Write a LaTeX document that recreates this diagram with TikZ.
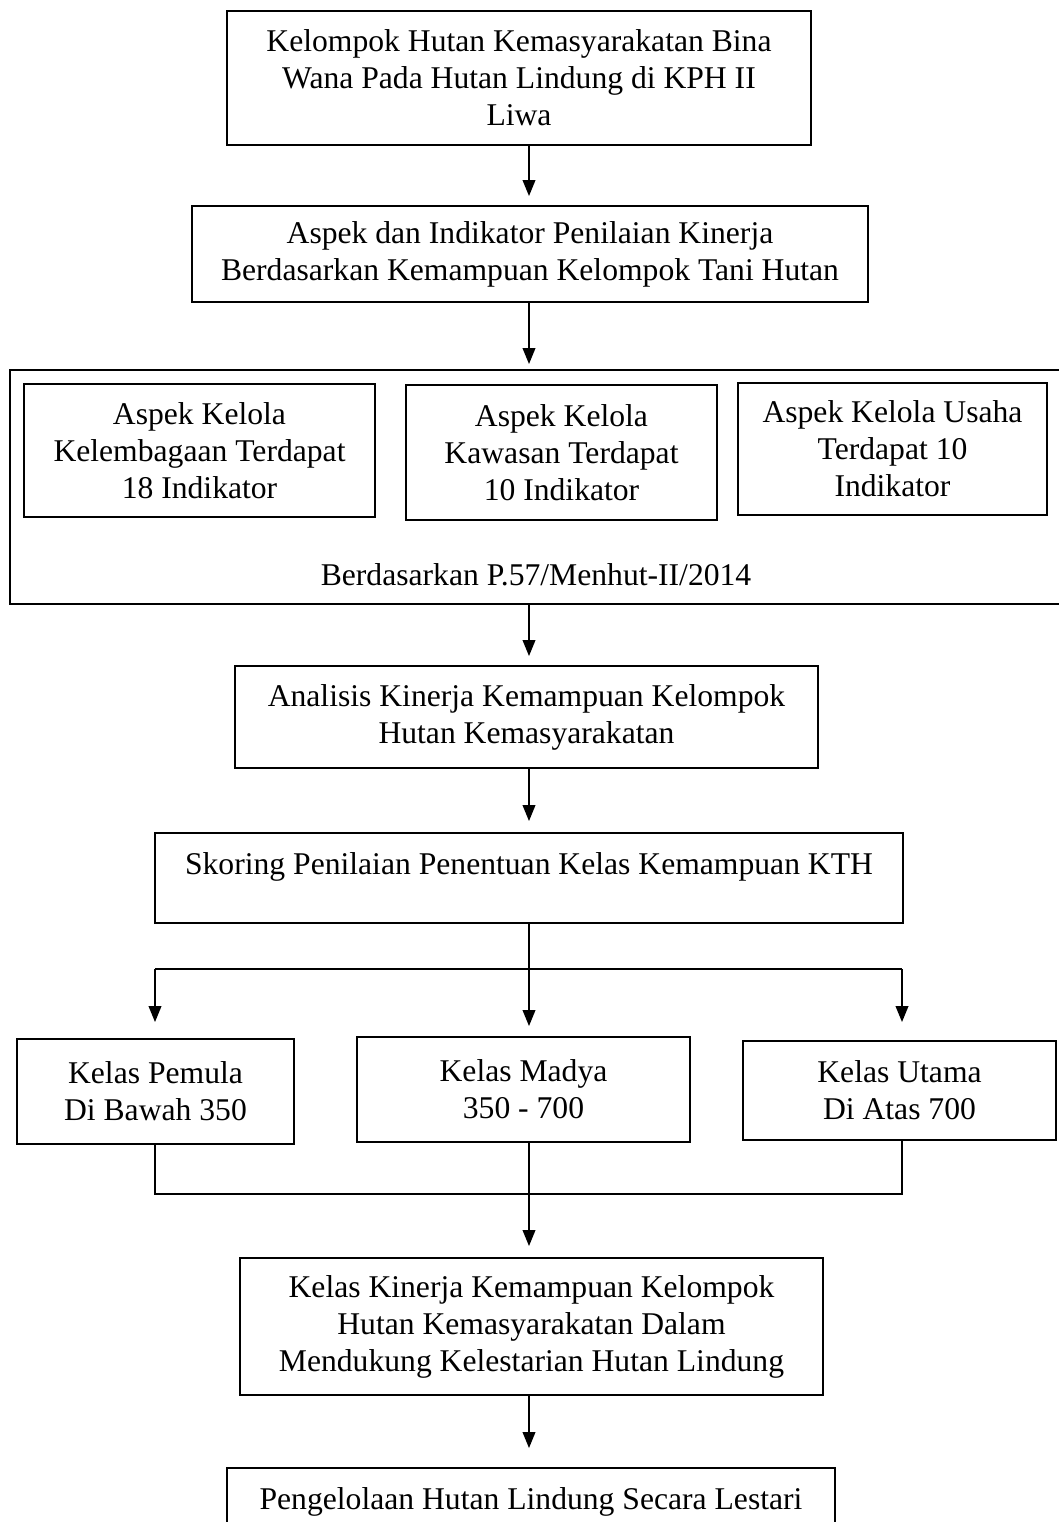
\documentclass[tikz,border=0pt]{standalone}
\usepackage{fontspec}
\setmainfont{Liberation Serif}
\usetikzlibrary{arrows.meta}

\tikzset{
	kotak/.style={draw, line width=0.8pt, align=center, inner sep=2pt,
		font=\fontsize{13.5pt}{15.8pt}\selectfont},
	panah/.style={-{Triangle[length=0.24cm,width=0.19cm]}, line width=0.7pt},
	garis/.style={line width=0.8pt},
}

\begin{document}
\begin{tikzpicture}[x=0.015cm, y=-0.015cm]
		\useasboundingbox (0,0) rectangle (1058,1522);
		\coordinate (sumbu) at (529,0);
		
		% Kotak atas
		\node[kotak, minimum width=8.76cm, minimum height=2.01cm] (k1) at (519,78) {Kelompok Hutan Kemasyarakatan Bina\\ Wana Pada Hutan Lindung di KPH II\\ Liwa};
		\node[kotak, minimum width=10.14cm, minimum height=1.44cm] (k2) at (530,254) {Aspek dan Indikator Penilaian Kinerja\\ Berdasarkan Kemampuan Kelompok Tani Hutan};
		
		% Kotak besar dengan tiga aspek
		\node[kotak, minimum width=15.81cm, minimum height=3.51cm] (k3) at (537,487) {};
		\node[kotak, minimum width=5.265cm, minimum height=1.995cm] (aspek1) at (199.5,450.5) {Aspek Kelola\\ Kelembagaan Terdapat\\ 18 Indikator};
		\node[kotak, minimum width=4.665cm, minimum height=2.025cm] (aspek2) at (561.5,452.5) {Aspek Kelola\\ Kawasan Terdapat\\ 10 Indikator};
		\node[kotak, minimum width=4.635cm, minimum height=1.98cm] (aspek3) at (892.5,449) {Aspek Kelola Usaha\\ Terdapat 10\\ Indikator};
		\node[kotak, draw=none] (dasar) at (536,575) {Berdasarkan P.57/Menhut-II/2014};
		
		% Analisis dan skoring
		\node[kotak, minimum width=8.745cm, minimum height=1.53cm] (k4) at (526.5,717) {Analisis Kinerja Kemampuan Kelompok\\ Hutan Kemasyarakatan};
		\node[kotak, minimum width=11.22cm, inner sep=0pt, text height=0.615cm, text depth=0.735cm] (k5) at (529,878) {Skoring Penilaian Penentuan Kelas Kemampuan KTH};
		
		% Kelas
		\node[kotak, minimum width=4.155cm, minimum height=1.575cm] (k6) at (155.5,1091.5) {Kelas Pemula\\ Di Bawah 350};
		\node[kotak, minimum width=4.995cm, minimum height=1.575cm] (k7) at (523.5,1089.5) {Kelas Madya\\ 350 - 700};
		\node[kotak, minimum width=4.695cm, minimum height=1.485cm] (k8) at (899.5,1090.5) {Kelas Utama\\ Di Atas 700};
		
		% Kotak bawah
		\node[kotak, minimum width=8.745cm, minimum height=2.055cm] (k9) at (531.5,1326.5) {Kelas Kinerja Kemampuan Kelompok\\ Hutan Kemasyarakatan Dalam\\ Mendukung Kelestarian Hutan Lindung};
		\node[kotak, minimum width=9.12cm, minimum height=1.005cm] (k10) at (531,1501.5) {Pengelolaan Hutan Lindung Secara Lestari};
		
		% Panah
		\draw[panah, shorten >=0.135cm] (k1.south -| sumbu) -- (k2.north -| sumbu);
		\draw[panah, shorten >=0.075cm] (k2.south -| sumbu) -- (k3.north -| sumbu);
		\draw[panah, shorten >=0.135cm] (k3.south -| sumbu) -- (k4.north -| sumbu);
		\draw[panah, shorten >=0.165cm] (k4.south -| sumbu) -- (k5.north -| sumbu);
		
		% Cabang ke tiga kelas
		\coordinate (cabKi) at (155,969);
		\coordinate (cabKa) at (902,969);
		\draw[garis] (cabKi) -- (cabKa);
		\draw[panah, shorten >=0.24cm] (cabKi) -- (cabKi |- k6.north);
		\draw[panah, shorten >=0.15cm] (k5.south -| sumbu) -- (k7.north -| sumbu);
		\draw[panah, shorten >=0.27cm] (cabKa) -- (cabKa |- k8.north);
		
		% Gabung lagi
		\coordinate (gabKi) at (155,1194);
		\coordinate (gabKa) at (902,1194);
		\draw[garis] (k6.south -| gabKi) -- (gabKi) -- (gabKa) -- (k8.south -| gabKa);
		\draw[panah, shorten >=0.165cm] (k7.south -| sumbu) -- (k9.north -| sumbu);
		\draw[panah, shorten >=0.285cm] (k9.south -| sumbu) -- (k10.north -| sumbu);
	\end{tikzpicture}
\end{document}
